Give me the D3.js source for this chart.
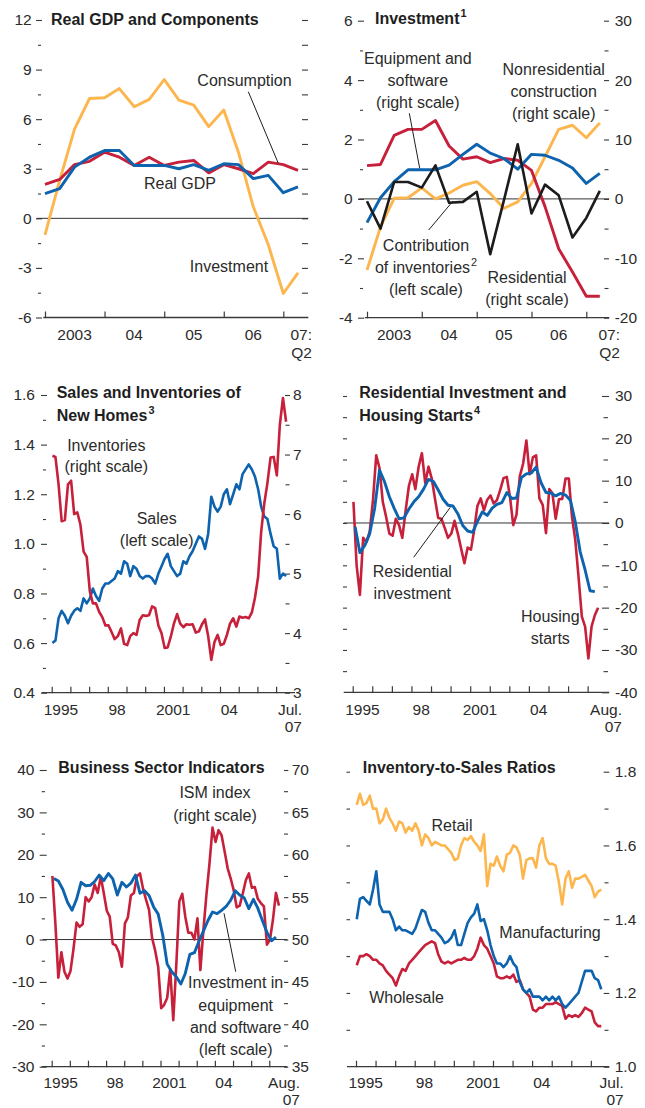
<!DOCTYPE html>
<html>
<head>
<meta charset="utf-8">
<script src="https://cdn.jsdelivr.net/npm/d3@7"></script>
<style>
  body { margin: 0; background: #fff; }
  svg { display: block; }
</style>
</head>
<body>
<script>
// ---------- Data: Real GDP and components (percent change, quarterly 2003Q1–2007Q2)
const quarters0307 = ["2003Q1","2003Q2","2003Q3","2003Q4","2004Q1","2004Q2","2004Q3","2004Q4",
  "2005Q1","2005Q2","2005Q3","2005Q4","2006Q1","2006Q2","2006Q3","2006Q4","2007Q1","2007Q2"];
const realGDP     = [1.5,1.8,3.1,3.7,4.1,4.1,3.2,3.2,3.2,3.0,3.25,2.9,3.3,3.25,2.4,2.6,1.55,1.9];
const consumption = [2.05,2.35,3.25,3.45,4.0,3.7,3.2,3.7,3.2,3.4,3.5,2.75,3.25,3.0,2.7,3.4,3.25,2.9];
const investment  = [-1.0,2.3,5.4,7.25,7.3,7.85,6.75,7.2,8.4,7.15,6.85,5.55,6.55,4.0,0.7,-1.6,-4.55,-3.3];

// ---------- Data: Investment components
const residentialInv   = [5.6,5.8,10.7,11.7,11.7,13.2,8.9,6.7,7.1,6.1,6.8,6.5,4.8,-1.3,-8.4,-12.3,-16.4,-16.4];
const equipSoftware    = [-4.0,0.2,2.9,4.9,4.9,4.9,5.7,7.5,9.2,7.7,6.8,5.0,7.5,7.35,6.5,5.2,2.6,4.3];
const nonresConstr     = [-12.0,-4.7,0.1,0.2,1.85,0,1.0,2.3,2.9,0.9,-1.6,-0.5,2.6,7.1,11.7,12.4,10.3,12.8];
const inventoryContrib = [-0.08,-1.0,0.57,0.57,0.38,1.13,-0.13,-0.1,0.24,-1.86,-0.05,1.84,-0.49,0.48,0.12,-1.3,-0.64,0.27];

// ---------- Data: New homes, sales (millions) and inventories (months), every other month 1995–2007:Jul
const newHomeSales = [0.60,0.61,0.70,0.73,0.71,0.68,0.71,0.73,0.74,0.73,
  0.78,0.76,0.78,0.82,0.79,0.77,0.82,0.84,0.84,0.85,
  0.86,0.89,0.88,0.93,0.92,0.87,0.91,0.90,0.87,0.86,
  0.87,0.87,0.86,0.84,0.88,0.91,0.94,0.96,0.91,0.89,
  0.87,0.88,0.93,0.92,0.95,0.97,1.00,1.03,1.02,0.98,
  1.04,1.19,1.15,1.13,1.15,1.20,1.22,1.16,1.20,1.24,
  1.22,1.28,1.30,1.32,1.30,1.27,1.22,1.15,1.11,1.10,
  1.04,0.99,0.98,0.86,0.88,0.87];
const newHomeInventories = [6.98,6.96,6.50,5.88,5.90,6.50,6.56,6.00,6.03,5.82,
  5.37,5.28,4.70,4.50,4.50,4.36,4.27,4.13,4.13,4.02,
  3.90,3.95,4.08,3.82,3.80,3.95,4.00,3.97,4.22,4.30,
  4.29,4.30,4.45,4.42,4.13,4.00,3.75,3.76,3.94,4.16,
  4.32,4.16,4.10,4.15,4.14,4.15,4.01,4.03,4.15,4.23,
  3.95,3.55,3.85,3.97,3.80,3.82,3.97,4.16,4.25,4.11,
  4.28,4.26,4.27,4.25,4.35,4.60,4.95,5.70,6.18,6.52,
  6.95,6.96,6.65,7.50,7.95,7.55];

// ---------- Data: Housing starts (every other month) and residential investment (quarterly), y/y percent
const housingStarts = [5.0,-10,-17,-3.5,-4.5,-2.0,5.5,16.0,13.0,5.0,
  1.5,-2.5,-3.0,1.0,-0.5,-3.5,3.0,8.8,11.5,8.0,
  13.3,16.5,9.4,13.3,10.5,5.8,1.2,1.0,-1.2,-3.5,
  -2.5,0.5,-2.5,-6.0,-9.5,-5.8,-6.3,-1.8,4.0,5.8,
  3.0,5.5,6.5,4.6,5.4,7.8,10.6,10.9,6.0,-0.5,
  2.0,11.0,14.0,19.5,11.5,15.5,16.0,5.8,4.3,-2.4,
  8.0,7.0,1.0,5.6,5.7,10.5,10.5,1.5,-4.0,-12.7,
  -22.1,-24.5,-32.0,-24.5,-21.8,-20.0];
const resInvestmentYoY = [-0.9,-7.0,-5.3,-2.5,3.5,12.5,9.8,6.2,3.4,1.0,
  1.2,3.3,5.0,6.2,8.0,10.3,9.8,7.8,5.6,4.2,
  4.0,2.2,-0.6,-1.9,-2.2,0.3,2.6,1.8,3.5,4.4,
  4.8,7.2,5.8,5.9,10.7,11.6,11.8,13.2,9.5,7.2,
  7.1,6.4,7.0,6.6,5.3,0.3,-6.8,-11.1,-16.0,-16.2];

// ---------- Data: ISM index (every other month) and equipment & software investment (quarterly)
const ismIndex = [57.5,52.0,45.5,48.5,46.2,45.4,46.3,48.9,52.0,51.5,
  51.8,55.0,54.5,55.0,56.5,55.5,57.4,55.5,53.4,52.7,
  49.5,49.3,48.5,46.8,51.9,52.6,55.2,55.5,57.5,57.8,
  56.0,54.7,53.5,50.2,48.7,46.8,41.9,42.3,43.1,46.5,
  40.5,47.0,54.5,55.4,52.7,50.8,50.8,50.0,52.5,46.4,
  51.1,55.3,59.0,63.2,61.5,62.9,62.3,60.4,58.4,57.2,
  55.8,53.8,54.0,55.4,57.0,57.8,56.1,56.2,54.8,54.3,
  53.9,49.4,50.0,52.3,55.5,54.0];
const equipInvYoY = [14.4,13.8,11.8,8.8,6.9,9.5,13.5,12.7,12.8,13.7,
  15.2,13.9,15.6,14.3,10.5,13.5,12.4,13.3,15.2,10.9,
  11.5,10.4,7.7,6.0,1.0,-5.8,-7.6,-8.8,-10.5,-8.0,
  -3.5,-3.1,-0.4,2.0,4.5,6.5,6.1,6.9,7.8,9.3,
  11.5,10.5,9.8,7.3,9.5,7.4,4.5,1.7,-0.3,0.6];

// ---------- Data: Inventory-to-sales ratios (every other month)
const retailRatio = [1.71,1.74,1.71,1.715,1.735,1.70,1.70,1.66,1.67,1.70,
  1.675,1.66,1.64,1.665,1.66,1.635,1.65,1.64,1.66,1.64,
  1.60,1.63,1.62,1.60,1.61,1.605,1.60,1.60,1.59,1.58,
  1.56,1.565,1.60,1.62,1.615,1.625,1.61,1.60,1.585,1.63,
  1.49,1.55,1.545,1.57,1.545,1.53,1.575,1.58,1.60,1.595,
  1.575,1.51,1.56,1.565,1.565,1.54,1.60,1.62,1.565,1.55,
  1.55,1.545,1.50,1.44,1.51,1.53,1.485,1.51,1.51,1.515,
  1.52,1.505,1.49,1.46,1.475,1.48];
const manufRatio = [1.40,1.455,1.46,1.45,1.44,1.48,1.53,1.44,1.42,1.42,
  1.42,1.40,1.37,1.38,1.37,1.37,1.365,1.36,1.375,1.40,
  1.425,1.42,1.39,1.37,1.37,1.36,1.35,1.335,1.34,1.35,
  1.37,1.33,1.33,1.36,1.39,1.405,1.415,1.44,1.395,1.40,
  1.37,1.33,1.30,1.28,1.28,1.27,1.28,1.30,1.28,1.27,
  1.23,1.21,1.20,1.21,1.19,1.19,1.19,1.18,1.19,1.18,
  1.19,1.18,1.19,1.17,1.16,1.17,1.18,1.19,1.20,1.23,
  1.26,1.26,1.26,1.24,1.235,1.21];
const wholesaleRatio = [1.275,1.30,1.30,1.305,1.30,1.29,1.29,1.28,1.275,1.26,
  1.25,1.24,1.22,1.245,1.265,1.26,1.28,1.29,1.30,1.31,
  1.32,1.33,1.335,1.34,1.335,1.305,1.285,1.28,1.285,1.28,
  1.285,1.29,1.29,1.295,1.29,1.29,1.30,1.32,1.35,1.33,
  1.32,1.30,1.28,1.245,1.24,1.24,1.245,1.24,1.25,1.23,
  1.235,1.21,1.20,1.19,1.155,1.15,1.16,1.16,1.17,1.17,
  1.17,1.175,1.17,1.165,1.13,1.14,1.135,1.14,1.135,1.145,
  1.16,1.155,1.15,1.12,1.11,1.11];

// ---------- Tick labels
const p1LeftLabels  = [-6,-3,0,3,6,9,12];
const p2LeftLabels  = [-4,-2,0,2,4,6];
const p2RightLabels = [-20,-10,0,10,20,30];
const p3LeftLabels  = [0.4,0.6,0.8,1.0,1.2,1.4,1.6];
const p3RightLabels = [3,4,5,6,7,8];
const p4RightLabels = [-40,-30,-20,-10,0,10,20,30];
const p5LeftLabels  = [-30,-20,-10,0,10,20,30,40];
const p5RightLabels = [35,40,45,50,55,60,65,70];
const p6RightLabels = [1.0,1.2,1.4,1.6,1.8];
const shortYears    = ["1995","98","2001","04"];
const shortYearsQ   = ["2003","04","05","06"];

// ---------- Styling
const FONT = '"Liberation Sans", Arial, Helvetica, sans-serif';
const C = { red: "#c7203b", blue: "#0d63ae", orange: "#fdb64e", black: "#1c1c1c",
            text: "#2b2b2b", axis: "#3a3a3a" };
const WQ = 2.9;   // quarterly lines
const WM = 2.6;   // monthly lines

const svg = d3.select("body").append("svg")
  .attr("width", 645).attr("height", 1108)
  .attr("font-family", FONT);

// ---------- Date helpers
const parseQ = s => new Date(+s.slice(0, 4), (+s.slice(5) - 1) * 3, 1);
const qDates = quarters0307.map(parseQ);
const biMonths = d3.timeMonth.every(2).range(new Date(1995, 0, 1), new Date(2007, 7, 1))
  .map(d => d3.timeDay.offset(d, 14));
const qMid = d3.timeMonth.every(3).range(new Date(1995, 0, 1), new Date(2007, 6, 1))
  .map(d => d3.timeDay.offset(d3.timeMonth.offset(d, 1), 14));
const yearStarts = d3.timeYear.range(new Date(1995, 0, 1), new Date(2008, 0, 1));

// midpoints between labelled ticks
const mids = (arr) => arr.slice(0, -1).map((v, i) => +((v + arr[i + 1]) / 2).toFixed(3));
const fmtPlain = d => String(d);
const fmt1 = d => d.toFixed(1);

// ---------- Drawing helpers
function yTicks(g, scale, { x, side, values, len, pad = 4, format = null, size = 15.5 }) {
  const ax = (side === "left" ? d3.axisLeft(scale) : d3.axisRight(scale))
    .tickValues(values).tickSize(len).tickPadding(pad)
    .tickFormat(format ? format : () => "");
  const a = g.append("g").attr("transform", `translate(${x},0)`).call(ax);
  a.attr("font-family", null).attr("font-size", null);
  a.select(".domain").remove();
  a.selectAll(".tick line").attr("stroke", C.axis).attr("stroke-width", 1.1);
  a.selectAll(".tick text").attr("fill", C.text).attr("font-size", size);
  return a;
}

function xAxis(g, x, { y, x0, x1, ticks }) {
  g.append("line").attr("x1", x0).attr("x2", x1).attr("y1", y).attr("y2", y)
    .attr("stroke", C.axis).attr("stroke-width", 1.3);
  const a = g.append("g").attr("transform", `translate(0,${y})`)
    .call(d3.axisBottom(x).tickValues(ticks).tickSize(-6).tickFormat(() => ""));
  a.select(".domain").remove();
  a.selectAll(".tick line").attr("stroke", C.axis).attr("stroke-width", 1.2).attr("y1", 0.6);
}

function xLabels(g, x, labels, dates, y) {
  labels.forEach((t, i) => {
    g.append("text").attr("x", x(dates[i])).attr("y", y).attr("text-anchor", "middle")
      .attr("font-size", 15.5).attr("fill", C.text).text(t);
  });
}

function endLabel(g, lines, xr, y, dy) {
  lines.forEach((t, i) => g.append("text").attr("x", xr).attr("y", y + i * dy)
    .attr("text-anchor", "end").attr("font-size", 15.5).attr("fill", C.text).text(t));
}

function zeroLine(g, y, x0, x1) {
  g.append("line").attr("x1", x0).attr("x2", x1).attr("y1", y).attr("y2", y)
    .attr("stroke", "#333").attr("stroke-width", 1);
}

function series(g, dates, values, x, y, color, w = WQ) {
  const pts = values.map((v, i) => ({ d: dates[i], v }));
  g.append("path").datum(pts)
    .attr("fill", "none").attr("stroke", color).attr("stroke-width", w)
    .attr("stroke-linejoin", "round").attr("stroke-linecap", "butt")
    .attr("d", d3.line().x(p => x(p.d)).y(p => y(p.v)));
}

// one text line; "^" marks a superscript suffix
function textLine(g, str, x, y, { anchor = "middle", size = 16, weight = null, fill = C.text } = {}) {
  const [main, sup] = str.split("^");
  const t = g.append("text").attr("x", x).attr("y", y).attr("text-anchor", anchor)
    .attr("font-size", size).attr("fill", fill);
  if (weight) t.attr("font-weight", weight);
  t.append("tspan").text(main);
  if (sup) t.append("tspan").attr("dy", -size * 0.42).attr("font-size", size * 0.68)
    .attr("font-weight", weight || null).attr("dx", 1).text(sup);
  return t;
}

function note(g, lines, x, y, lh = 22, opts = {}) {
  lines.forEach((s, i) => textLine(g, s, x, y + i * lh, opts));
}

function title(g, lines, x, y, lh = 22.3) {
  lines.forEach((s, i) => textLine(g, s, x, y + i * lh,
    { anchor: "start", size: 16, weight: "bold", fill: "#1e1e1e" }));
}

function leader(g, x1, y1, x2, y2) {
  g.append("line").attr("x1", x1).attr("y1", y1).attr("x2", x2).attr("y2", y2)
    .attr("stroke", "#1e1e1e").attr("stroke-width", 1);
}

// ============ Panel 1: Real GDP and Components
{
  const g = svg.append("g");
  const x = d3.scaleTime().domain([new Date(2003, 0, 1), new Date(2007, 0, 1)]).range([45, 283.3]);
  const y = d3.scaleLinear().domain([-6, 12]).range([317.5, 20]);
  const minors = mids(p1LeftLabels);
  yTicks(g, y, { x: 42, side: "left", values: p1LeftLabels, len: 6, pad: 4.3, format: fmtPlain });
  yTicks(g, y, { x: 41, side: "left", values: minors, len: 3 });
  yTicks(g, y, { x: 302, side: "right", values: p1LeftLabels.filter(v => v > -6).concat(minors), len: 6 });
  zeroLine(g, y(0), 36.7, 308.3);
  xAxis(g, x, { y: 317.5, x0: 43.3, x1: 308.3, ticks: qDates.filter(d => d.getMonth() === 0) });
  xLabels(g, x, shortYearsQ, shortYearsQ.map((_, i) => new Date(2003 + i, 6, 1)), 340);
  endLabel(g, ["07:", "Q2"], 312, 340, 18);

  series(g, qDates, investment, x, y, C.orange);
  series(g, qDates, consumption, x, y, C.red);
  series(g, qDates, realGDP, x, y, C.blue);

  title(g, ["Real GDP and Components"], 51, 25);
  note(g, ["Consumption"], 244.5, 86);
  leader(g, 248.3, 91.7, 278.3, 163.3);
  note(g, ["Real GDP"], 180, 189);
  note(g, ["Investment"], 229, 271.7);
}

// ============ Panel 2: Investment
{
  const g = svg.append("g");
  const x = d3.scaleTime().domain([new Date(2003, 0, 1), new Date(2007, 0, 1)]).range([367, 586.3]);
  const yL = d3.scaleLinear().domain([-4, 6]).range([317.7, 20.7]);
  const yR = d3.scaleLinear().domain([-20, 30]).range([317.7, 20.7]);
  yTicks(g, yL, { x: 364, side: "left", values: p2LeftLabels, len: 6, pad: 5.3, format: fmtPlain });
  yTicks(g, yL, { x: 363, side: "left", values: mids(p2LeftLabels), len: 3 });
  yTicks(g, yR, { x: 604, side: "right", values: p2RightLabels, len: 5, pad: 5.7, format: fmtPlain });
  yTicks(g, yR, { x: 604.5, side: "right", values: mids(p2RightLabels), len: 4 });
  zeroLine(g, yL(0), 358.7, 609.3);
  xAxis(g, x, { y: 317.7, x0: 364.7, x1: 609.3, ticks: qDates.filter(d => d.getMonth() === 0) });
  xLabels(g, x, shortYearsQ, shortYearsQ.map((_, i) => new Date(2003 + i, 6, 1)), 340);
  endLabel(g, ["07:", "Q2"], 620, 340, 17.5);

  series(g, qDates, nonresConstr, x, yR, C.orange);
  series(g, qDates, residentialInv, x, yR, C.red);
  series(g, qDates, equipSoftware, x, yR, C.blue);
  series(g, qDates, inventoryContrib, x, yL, C.black, 2.6);

  title(g, ["Investment^1"], 375, 24);
  note(g, ["Equipment and", "software", "(right scale)"], 417.8, 64);
  leader(g, 409.3, 113.3, 419.7, 168.3);
  note(g, ["Nonresidential", "construction", "(right scale)"], 553.7, 75);
  note(g, ["Contribution", "of inventories^2", "(left scale)"], 426, 251);
  leader(g, 428.7, 230, 453, 201);
  note(g, ["Residential", "(right scale)"], 527, 283.3);
}

// ============ Panel 3: Sales and Inventories of New Homes
{
  const g = svg.append("g");
  const x = d3.scaleTime().domain([new Date(1995, 0, 1), new Date(2008, 0, 1)]).range([51.7, 294.8]);
  const yL = d3.scaleLinear().domain([0.4, 1.6]).range([692.7, 395]);
  const yR = d3.scaleLinear().domain([3, 8]).range([692.7, 395]);
  yTicks(g, yL, { x: 47, side: "left", values: p3LeftLabels, len: 6, pad: 6, format: fmt1 });
  yTicks(g, yL, { x: 46, side: "left", values: mids(p3LeftLabels), len: 3 });
  yTicks(g, yR, { x: 285, side: "right", values: p3RightLabels, len: 5, pad: 3, format: fmtPlain });
  yTicks(g, yR, { x: 285.5, side: "right", values: mids(p3RightLabels), len: 4 });
  xAxis(g, x, { y: 692.7, x0: 41.7, x1: 295, ticks: yearStarts });
  xLabels(g, x, shortYears, [1995, 1998, 2001, 2004].map(yr => new Date(yr, 6, 1)), 715);
  endLabel(g, ["Jul.", "07"], 302, 715, 17);

  series(g, biMonths, newHomeSales, x, yL, C.blue, WM);
  series(g, biMonths, newHomeInventories, x, yR, C.red, WM);

  title(g, ["Sales and Inventories of", "New Homes^3"], 56.7, 398.4);
  note(g, ["Inventories", "(right scale)"], 106.3, 450.7, 21.5);
  note(g, ["Sales", "(left scale)"], 156.7, 524, 22);
}

// ============ Panel 4: Residential Investment and Housing Starts
{
  const g = svg.append("g");
  const x = d3.scaleTime().domain([new Date(1995, 0, 1), new Date(2008, 0, 1)]).range([352.7, 607.2]);
  const y = d3.scaleLinear().domain([-40, 30]).range([692.3, 396]);
  const allFives = p4RightLabels.concat(mids(p4RightLabels));
  yTicks(g, y, { x: 347, side: "left", values: allFives.filter(v => v > -40), len: 4 });
  yTicks(g, y, { x: 602, side: "right", values: p4RightLabels, len: 7, pad: 6, format: fmtPlain });
  yTicks(g, y, { x: 603.5, side: "right", values: mids(p4RightLabels), len: 4.5 });
  zeroLine(g, y(0), 343.7, 609.3);
  xAxis(g, x, { y: 692.3, x0: 343.7, x1: 609.3, ticks: yearStarts });
  xLabels(g, x, shortYears, [1995, 1998, 2001, 2004].map(yr => new Date(yr, 6, 1)), 715);
  endLabel(g, ["Aug.", "07"], 622, 715, 17);

  series(g, biMonths, housingStarts, x, y, C.red, WM);
  series(g, qMid, resInvestmentYoY, x, y, C.blue, WQ);

  title(g, ["Residential Investment and", "Housing Starts^4"], 359.3, 398.4);
  note(g, ["Residential", "investment"], 412.3, 577.3);
  leader(g, 413.7, 557.3, 450.3, 507.3);
  note(g, ["Housing", "starts"], 550.3, 622.3, 21.7);
}

// ============ Panel 5: Business Sector Indicators
{
  const g = svg.append("g");
  const x = d3.scaleTime().domain([new Date(1995, 0, 1), new Date(2008, 0, 1)]).range([51.7, 287.4]);
  const yL = d3.scaleLinear().domain([-30, 40]).range([1066.7, 770]);
  const yR = d3.scaleLinear().domain([35, 70]).range([1066.7, 770]);
  yTicks(g, yL, { x: 46.7, side: "left", values: p5LeftLabels, len: 7, pad: 5.3, format: fmtPlain });
  yTicks(g, yL, { x: 45, side: "left", values: mids(p5LeftLabels), len: 3.3 });
  yTicks(g, yR, { x: 284, side: "right", values: p5RightLabels, len: 4.3, pad: 3.4, format: fmtPlain });
  yTicks(g, yR, { x: 284, side: "right", values: mids(p5RightLabels), len: 4 });
  zeroLine(g, yL(0), 42.7, 287.3);
  xAxis(g, x, { y: 1066.7, x0: 41.7, x1: 287.3, ticks: yearStarts });
  xLabels(g, x, shortYears, [1995, 1998, 2001, 2004].map(yr => new Date(yr, 6, 1)), 1088);
  endLabel(g, ["Aug.", "07"], 300, 1088, 17);

  series(g, biMonths, ismIndex, x, yR, C.red, WM);
  series(g, qMid, equipInvYoY, x, yL, C.blue, WQ);

  title(g, ["Business Sector Indicators"], 58.3, 773.3);
  note(g, ["ISM index", "(right scale)"], 215, 798.3, 22.4);
  note(g, ["Investment in", "equipment", "and software", "(left scale)"], 235.7, 988.3, 22.2);
  leader(g, 224, 913.3, 235.7, 971.7);
}

// ============ Panel 6: Inventory-to-Sales Ratios
{
  const g = svg.append("g");
  const x = d3.scaleTime().domain([new Date(1995, 0, 1), new Date(2008, 0, 1)]).range([356, 610.4]);
  const y = d3.scaleLinear().domain([1.0, 1.8]).range([1066.7, 771.7]);
  const minors = mids(p6RightLabels);
  yTicks(g, y, { x: 350, side: "left", values: p6RightLabels.filter(v => v > 1).concat(minors), len: 3.5 });
  yTicks(g, y, { x: 603.7, side: "right", values: p6RightLabels, len: 5.6, pad: 5.4, format: fmt1 });
  yTicks(g, y, { x: 604.5, side: "right", values: minors, len: 4 });
  xAxis(g, x, { y: 1066.7, x0: 347, x1: 609.3, ticks: yearStarts });
  xLabels(g, x, shortYears, [1995, 1998, 2001, 2004].map(yr => new Date(yr, 6, 1)), 1088);
  endLabel(g, ["Jul.", "07"], 623.7, 1088, 17);

  series(g, biMonths, retailRatio, x, y, C.orange, WM);
  series(g, biMonths, wholesaleRatio, x, y, C.red, WM);
  series(g, biMonths, manufRatio, x, y, C.blue, WM);

  title(g, ["Inventory-to-Sales Ratios"], 362.7, 772.7);
  note(g, ["Retail"], 452, 830.7);
  note(g, ["Manufacturing"], 550, 938.3);
  note(g, ["Wholesale"], 406.5, 1003.3);
}
</script>
</body>
</html>
